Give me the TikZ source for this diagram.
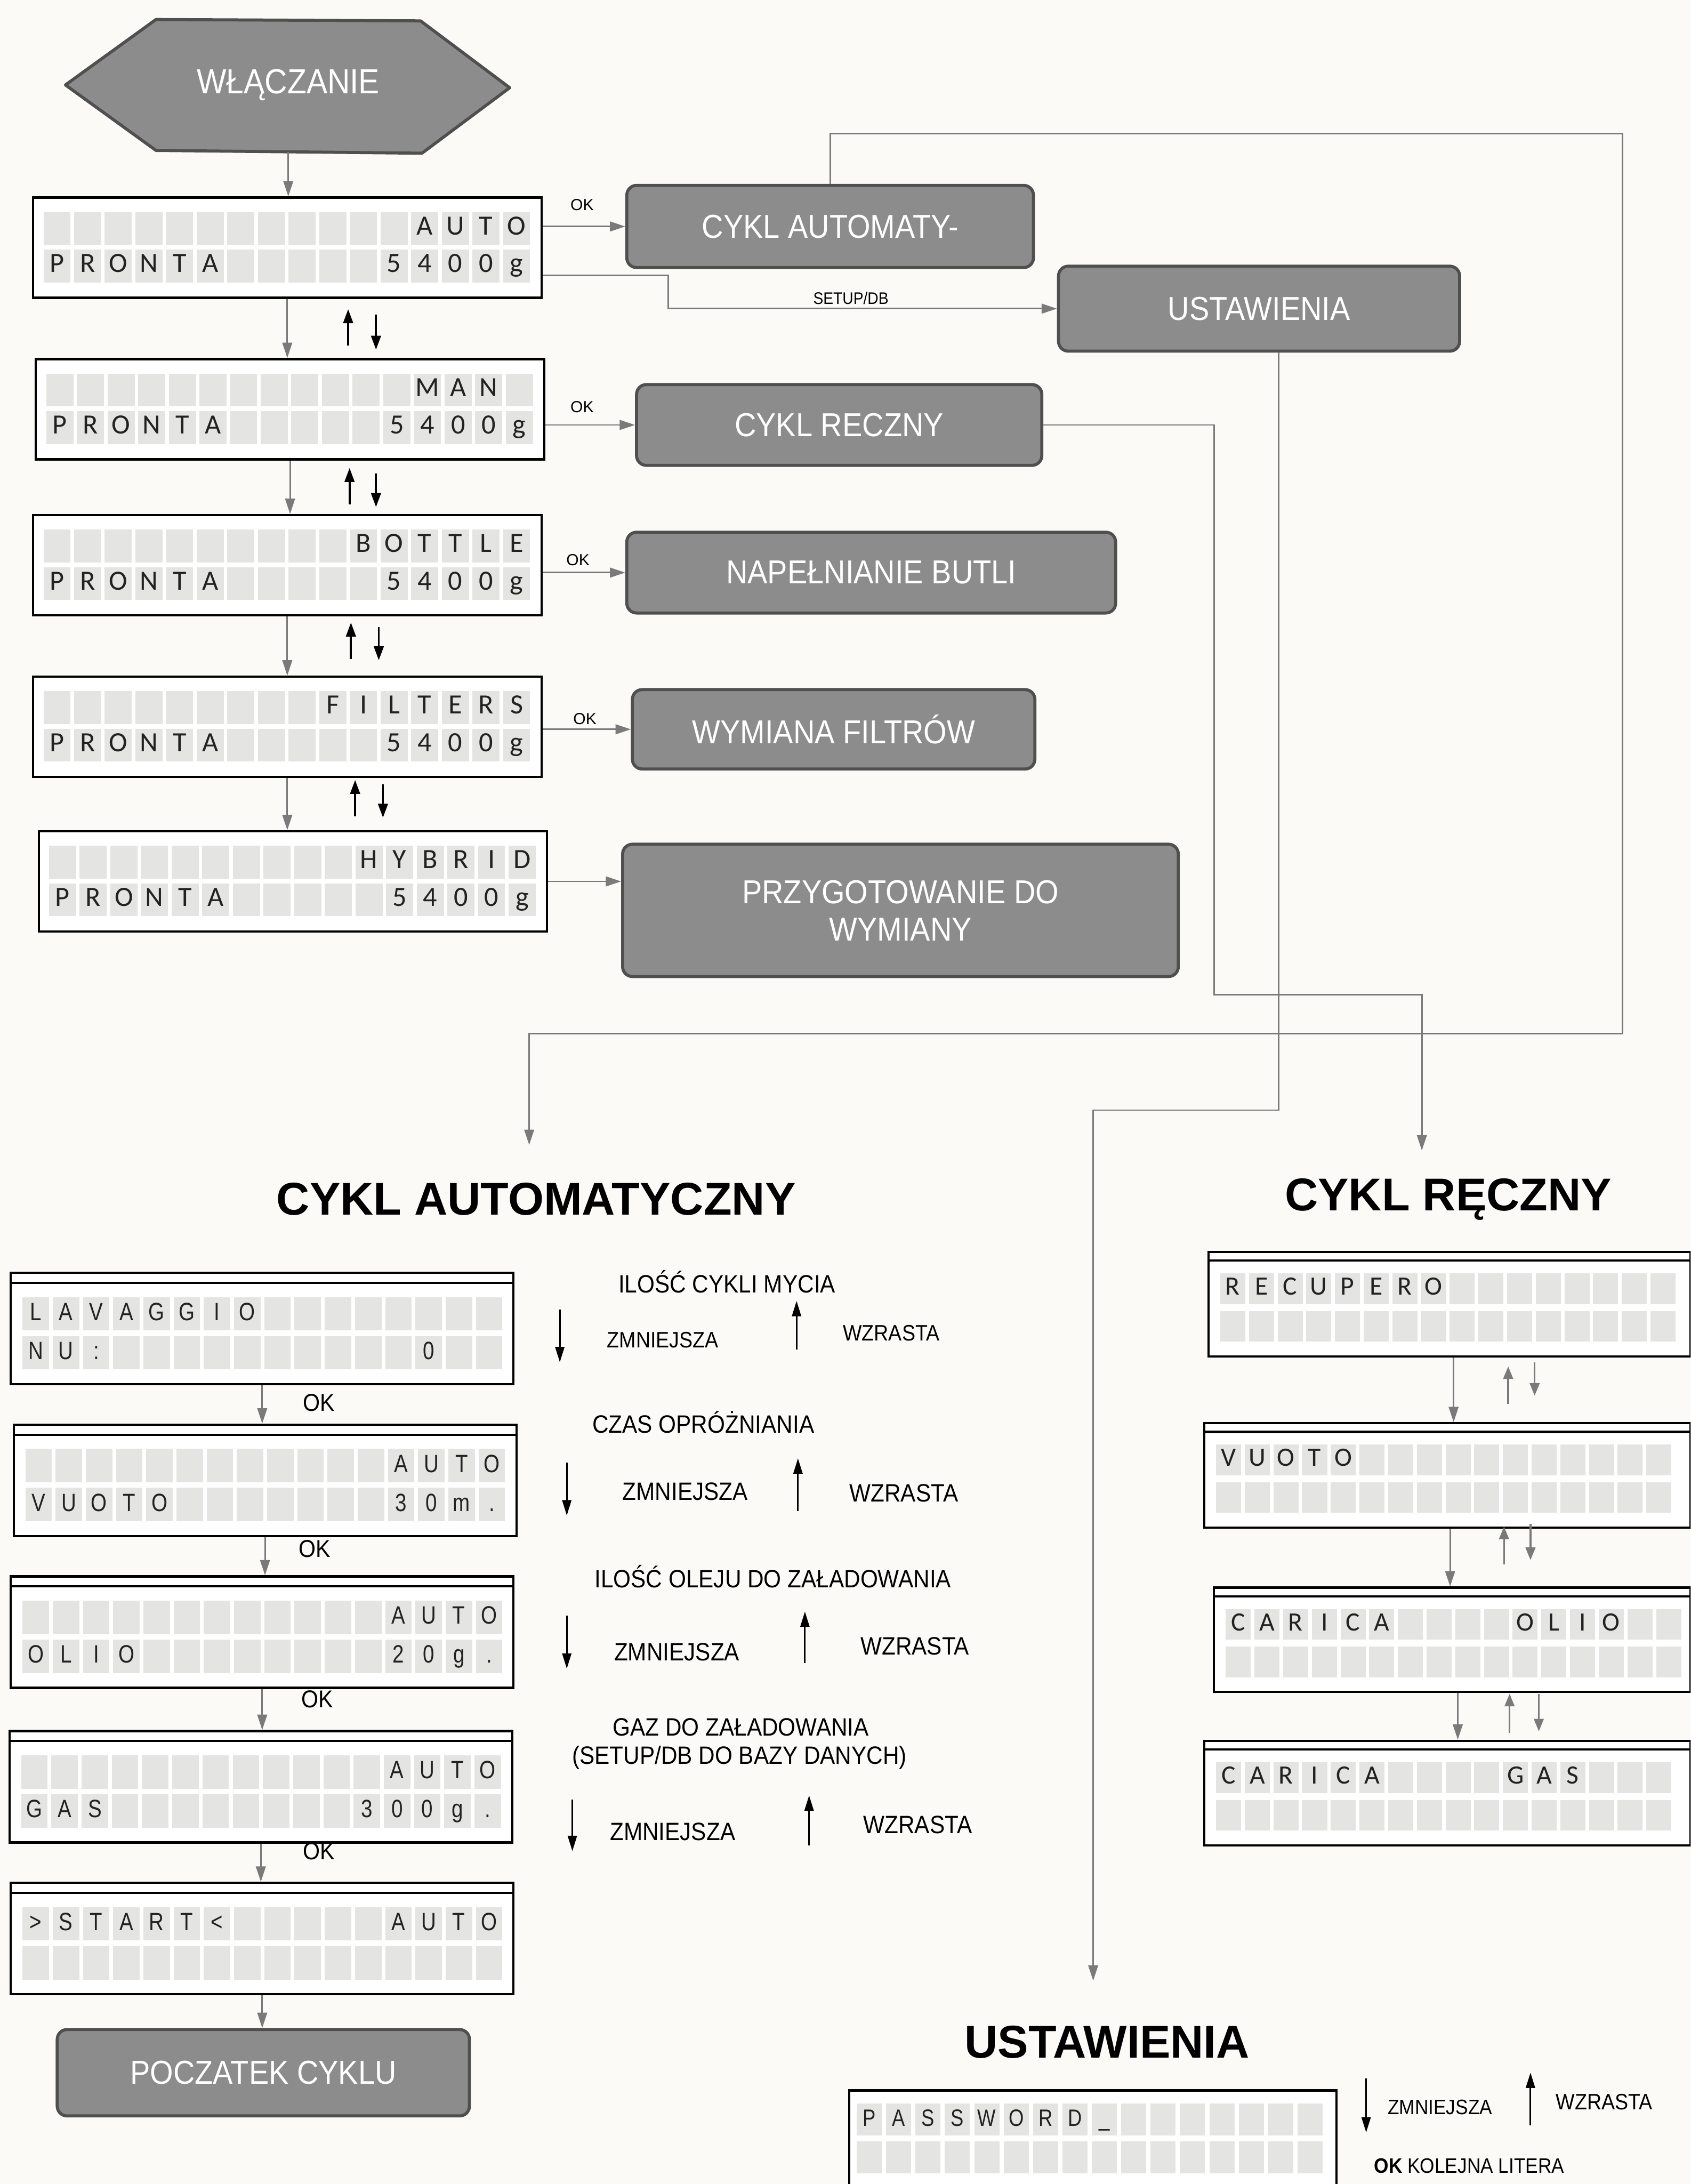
\documentclass[tikz,border=0pt]{standalone}
\usepackage{fontspec}
\setmainfont{Liberation Sans}
\newfontfamily\nar{Liberation Sans}[FakeStretch=0.9]
\newfontfamily\narr{Liberation Sans}[FakeStretch=0.82]
\newfontfamily\lcdf{Carlito}
\usetikzlibrary{arrows.meta,calc}
\definecolor{bg}{HTML}{FBFAF7}
\definecolor{boxfill}{HTML}{8C8C8C}
\definecolor{boxedge}{HTML}{4F4F4F}
\definecolor{flowgray}{HTML}{7A7A7A}
\definecolor{cellgray}{HTML}{E4E4E2}
\definecolor{lcdtext}{HTML}{222222}
\newcommand\fs[1]{\fontsize{#1}{#1}\selectfont}
\def\B{}
\newcommand\lcdrow[5][]{\foreach \c [count=\i from 0] in {#5}{\node[lcdcell,#1] at ({#2+\i*#4},{#3}) {\c};}}
% top LCD: name, x, y, row1, row2
\newcommand\toplcd[5]{%
  \node[lcdbox, minimum width=365pt, minimum height=72pt] (#1) at (#2,#3) {};
  \lcdrow[tcell]{#2+8}{#3+11}{22}{#4}
  \lcdrow[tcell]{#2+8}{#3+38}{22}{#5}}
% bottom-left LCD
\newcommand\leftlcd[5]{%
  \node[lcdbox, minimum width=361pt, minimum height=80pt] (#1) at (#2,#3) {};
  \draw[line width=1.6pt] ({#2},{#3+8}) -- ({#2+361},{#3+8});
  \lcdrow[bcell]{#2+9}{#3+18}{21.7}{#4}
  \lcdrow[bcell]{#2+9}{#3+46}{21.7}{#5}}
% right LCD: name, x, y, width, row1
\newcommand\rightlcd[5]{%
  \node[lcdbox, minimum width=#4pt, minimum height=75pt] (#1) at (#2,#3) {};
  \draw[line width=1.6pt] ({#2},{#3+7}) -- ({#2+#4},{#3+7});
  \lcdrow[rcell]{#2+9}{#3+16}{20.6}{#5}
  \lcdrow[rcell]{#2+9}{#3+43}{20.6}{\B,\B,\B,\B,\B,\B,\B,\B,\B,\B,\B,\B,\B,\B,\B,\B}}
\tikzset{
  gbox/.style={draw=boxedge, fill=boxfill, line width=2.2pt, rounded corners=7pt, text=white,
    font=\nar\fs{23.8}, align=center, inner sep=0pt, anchor=north west},
  lcdbox/.style={draw=black, fill=white, line width=1.6pt, inner sep=0pt, anchor=north west},
  lcdcell/.style={fill=cellgray, inner sep=0pt, anchor=north west, text=lcdtext},
  tcell/.style={minimum width=19.5pt, minimum height=23.5pt, font=\lcdf\fs{20}, text height=13pt, text depth=4pt},
  bcell/.style={minimum width=19pt, minimum height=24pt, font=\narr\fs{18}, text height=13pt, text depth=3.5pt},
  rcell/.style={minimum width=18pt, minimum height=22pt, font=\lcdf\fs{19}, text height=12.5pt, text depth=3.5pt},
  pcell/.style={minimum width=18pt, minimum height=23pt, font=\narr\fs{17}, text height=12.5pt, text depth=3pt},
  flowarr/.style={draw=flowgray, color=flowgray, line width=1.1pt, -{Triangle[width=7pt,length=11pt]}},
  blk/.style={black, line width=1.4pt, -{Triangle[width=7pt,length=10pt]}},
  blk2/.style={black, line width=1.2pt, -{Triangle[width=6.5pt,length=11pt]}},
  gblk/.style={flowgray, line width=1.3pt, -{Triangle[width=7pt,length=9pt]}},
  ttl/.style={font=\bfseries\fs{33}, inner sep=0pt},
  htxt/.style={font=\nar\fs{18}, inner sep=0pt},
  stxt/.style={font=\nar\fs{16}, inner sep=0pt},
  oklab/.style={font=\fs{11.5}, inner sep=0pt},
  okbig/.style={font=\nar\fs{17.5}, inner sep=0pt}
}
\begin{document}
\begin{tikzpicture}[x=1pt,y=-1pt]
\path[use as bounding box, fill=bg] (0,0) rectangle (1214,1568);
\clip (0,0) rectangle (1214,1568);

% start hexagon
\draw[draw=boxedge, fill=boxfill, line width=2.2pt, line join=round]
  (47,61) -- (112,14) -- (302,15) -- (366,63) -- (303,110) -- (112,108) -- cycle;
\node[minimum width=190pt, minimum height=96pt, inner sep=0pt, text=white, font=\nar\fs{25}] (on) at (207,61) {WŁĄCZANIE};

% top LCDs
\toplcd{l1}{23}{141}{\B,\B,\B,\B,\B,\B,\B,\B,\B,\B,\B,\B,A,U,T,O}{P,R,O,N,T,A,\B,\B,\B,\B,\B,5,4,0,0,g}
\toplcd{l2}{25}{257}{\B,\B,\B,\B,\B,\B,\B,\B,\B,\B,\B,\B,M,A,N,\B}{P,R,O,N,T,A,\B,\B,\B,\B,\B,5,4,0,0,g}
\toplcd{l3}{23}{369}{\B,\B,\B,\B,\B,\B,\B,\B,\B,\B,B,O,T,T,L,E}{P,R,O,N,T,A,\B,\B,\B,\B,\B,5,4,0,0,g}
\toplcd{l4}{23}{485}{\B,\B,\B,\B,\B,\B,\B,\B,\B,F,I,L,T,E,R,S}{P,R,O,N,T,A,\B,\B,\B,\B,\B,5,4,0,0,g}
\toplcd{l5}{27}{596}{\B,\B,\B,\B,\B,\B,\B,\B,\B,\B,H,Y,B,R,I,D}{P,R,O,N,T,A,\B,\B,\B,\B,\B,5,4,0,0,g}

% gray action boxes
\node[gbox, minimum width=292pt, minimum height=59pt] (ca) at (449,132) {CYKL AUTOMATY-};
\node[gbox, minimum width=288pt, minimum height=61pt] (us) at (759,190) {USTAWIENIA};
\node[gbox, minimum width=291pt, minimum height=58pt] (cr) at (456,275) {CYKL RECZNY};
\node[gbox, minimum width=351pt, minimum height=58pt] (nb) at (449,381) {NAPEŁNIANIE BUTLI};
\node[gbox, minimum width=289pt, minimum height=57pt] (wf) at (453,494) {WYMIANA FILTRÓW};
\node[gbox, minimum width=399pt, minimum height=95pt] (pw) at (446,605) {PRZYGOTOWANIE DO\\[3pt]WYMIANY};

% vertical flow in top column
\draw[flowarr] (on.south) -- (on.south |- l1.north);
\draw[flowarr] (l1.south) -- (l1.south |- l2.north);
\draw[flowarr] (l2.south) -- (l2.south |- l3.north);
\draw[flowarr] (l3.south) -- (l3.south |- l4.north);
\draw[flowarr] (l4.south) -- (l4.south |- l5.north);

% up/down symbols (top)
\draw[blk] (250,248) -- (250,222);  \draw[blk] (270,226) -- (270,251);
\draw[blk] (251,362) -- (251,336);  \draw[blk] (270,340) -- (270,364);
\draw[blk] (252,473) -- (252,447);  \draw[blk] (272,450) -- (272,474);
\draw[blk] (255,586) -- (255,560);  \draw[blk] (275,563) -- (275,587);

% OK arrows
\draw[flowarr] (l1.east |- ca.west) -- (ca.west);
\draw[flowarr] (l2.east |- cr.west) -- (cr.west);
\draw[flowarr] (l3.east |- nb.west) -- (nb.west);
\draw[flowarr] (l4.east |- wf.west) -- (wf.west);
\draw[flowarr] (l5.east) -- (l5.east -| pw.west);
\node[oklab] at (418,147) {OK};
\node[oklab] at (418,292) {OK};
\node[oklab] at (415,402) {OK};
\node[oklab] at (420,516) {OK};

% SETUP/DB
\coordinate (sx) at (480,0);
\draw[flowarr] ($(l1.south east)+(0,-17)$) -| (us.west -| sx) -- (us.west);
\node[font=\nar\fs{12}, inner sep=0pt] at (611,214) {SETUP/DB};

% long connectors
\coordinate (a1) at (1165,96);
\coordinate (a2) at (380,742);
\coordinate (aEnd) at (380,822);
\draw[flowarr] (ca.north) |- (a1) |- (a2) -- (aEnd);
\coordinate (r1) at (872,714);
\coordinate (rEnd) at (1021,826);
\draw[flowarr] (cr.east) -| (r1) -| (rEnd);
\coordinate (u0) at ($(us.south)+(14,0)$);
\coordinate (u1) at (785,797);
\coordinate (uEnd) at (785,1422);
\draw[flowarr] (u0) |- (u1) -- (uEnd);

% section titles
\node[ttl] (tA) at (385,861) {CYKL AUTOMATYCZNY};
\node[ttl] (tR) at (1040,861) {CYKL RĘCZNY};
\node[ttl] (tU) at (795,1466) {USTAWIENIA};

% automatic cycle LCDs
\leftlcd{lv}{7}{913}{L,A,V,A,G,G,I,O,\B,\B,\B,\B,\B,\B,\B,\B}{N,U,:,\B,\B,\B,\B,\B,\B,\B,\B,\B,\B,0,\B,\B}
\leftlcd{vu}{9}{1022}{\B,\B,\B,\B,\B,\B,\B,\B,\B,\B,\B,\B,A,U,T,O}{V,U,O,T,O,\B,\B,\B,\B,\B,\B,\B,3,0,m,.}
\leftlcd{ol}{7}{1131}{\B,\B,\B,\B,\B,\B,\B,\B,\B,\B,\B,\B,A,U,T,O}{O,L,I,O,\B,\B,\B,\B,\B,\B,\B,\B,2,0,g,.}
\leftlcd{ga}{6}{1242}{\B,\B,\B,\B,\B,\B,\B,\B,\B,\B,\B,\B,A,U,T,O}{G,A,S,\B,\B,\B,\B,\B,\B,\B,\B,3,0,0,g,.}
\leftlcd{st}{7}{1351}{>,S,T,A,R,T,<,\B,\B,\B,\B,\B,A,U,T,O}{\B,\B,\B,\B,\B,\B,\B,\B,\B,\B,\B,\B,\B,\B,\B,\B}
\node[gbox, minimum width=296pt, minimum height=62pt] (pc) at (40,1456) {POCZATEK CYKLU};

\draw[flowarr] (lv.south) -- (lv.south |- vu.north);
\draw[flowarr] (vu.south) -- (vu.south |- ol.north);
\draw[flowarr] (ol.south) -- (ol.south |- ga.north);
\draw[flowarr] (ga.south) -- (ga.south |- st.north);
\draw[flowarr] (st.south) -- (st.south |- pc.north);
\node[okbig] at (229,1007) {OK};
\node[okbig] at (226,1112) {OK};
\node[okbig] at (228,1220) {OK};
\node[okbig] at (229,1329) {OK};

% automatic cycle explanations
\node[htxt] at (522,920) {ILOŚĆ CYKLI MYCIA};
\draw[blk2] (402,940) -- (402,978);
\node[stxt] at (476,962) {ZMNIEJSZA};
\draw[blk2] (572,969) -- (572,934);
\node[stxt] at (640,957) {WZRASTA};

\node[htxt] at (505,1021) {CZAS OPRÓŻNIANIA};
\draw[blk2] (407,1050) -- (407,1088);
\node[htxt] at (492,1071) {ZMNIEJSZA};
\draw[blk2] (573,1085) -- (573,1047);
\node[htxt] at (649,1072) {WZRASTA};

\node[htxt] at (555,1132) {ILOŚĆ OLEJU DO ZAŁADOWANIA};
\draw[blk2] (407,1160) -- (407,1198);
\node[htxt] at (486,1186) {ZMNIEJSZA};
\draw[blk2] (578,1194) -- (578,1157);
\node[htxt] at (657,1182) {WZRASTA};

\node[htxt] at (532,1240) {GAZ DO ZAŁADOWANIA};
\node[htxt] at (531,1262) {(SETUP/DB DO BAZY DANYCH)};
\draw[blk2] (411,1292) -- (411,1329);
\node[htxt] at (483,1315) {ZMNIEJSZA};
\draw[blk2] (581,1325) -- (581,1289);
\node[htxt] at (659,1310) {WZRASTA};

% manual cycle LCDs
\rightlcd{re}{867}{898}{346}{R,E,C,U,P,E,R,O,\B,\B,\B,\B,\B,\B,\B,\B}
\rightlcd{vr}{864}{1021}{349}{V,U,O,T,O,\B,\B,\B,\B,\B,\B,\B,\B,\B,\B,\B}
\rightlcd{co}{871}{1139}{342}{C,A,R,I,C,A,\B,\B,\B,\B,O,L,I,O,\B,\B}
\rightlcd{cg}{864}{1249}{349}{C,A,R,I,C,A,\B,\B,\B,\B,G,A,S,\B,\B,\B}

\coordinate (rs1) at ($(re.south)+(3,0)$);
\coordinate (rs2) at ($(vr.south)+(2,0)$);
\coordinate (rs3) at ($(co.south)+(4,0)$);
\draw[flowarr] (rs1) -- (rs1 |- vr.north);
\draw[flowarr] (rs2) -- (rs2 |- co.north);
\draw[flowarr] (rs3) -- (rs3 |- cg.north);
\draw[gblk] (1083,1008) -- (1083,981);  \draw[gblk] (1102,978) -- (1102,1002);
\draw[gblk] (1080,1123) -- (1080,1096); \draw[gblk] (1099,1094) -- (1099,1120);
\draw[gblk] (1084,1244) -- (1084,1216); \draw[gblk] (1105,1216) -- (1105,1243);

% settings LCD
\node[lcdbox, minimum width=350pt, minimum height=90pt] (ps) at (609,1500) {};
\lcdrow[pcell]{615}{1510}{21.1}{P,A,S,S,W,O,R,D,\_,\B,\B,\B,\B,\B,\B,\B}
\lcdrow[pcell]{615}{1537}{21.1}{\B,\B,\B,\B,\B,\B,\B,\B,\B,\B,\B,\B,\B,\B,\B,\B}
\draw[blk2] (981,1492) -- (981,1531);
\node[font=\nar\fs{15}, inner sep=0pt] at (1034,1513) {ZMNIEJSZA};
\draw[blk2] (1099,1526) -- (1099,1488);
\node[font=\nar\fs{16}, inner sep=0pt] at (1152,1509) {WZRASTA};
\node[font=\nar\fs{15}, inner sep=0pt] at (1055,1555) {\textbf{OK} KOLEJNA LITERA};
\end{tikzpicture}
\end{document}
